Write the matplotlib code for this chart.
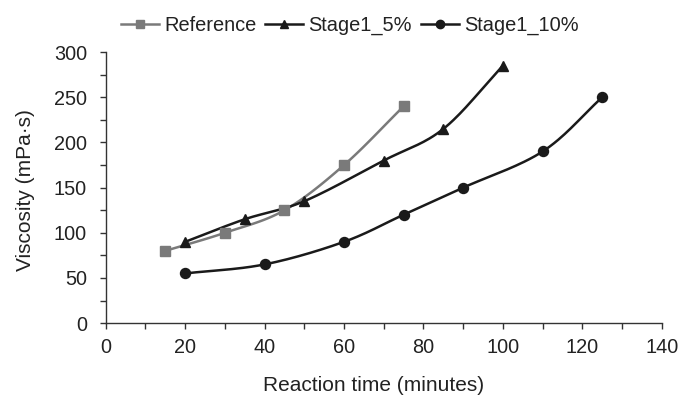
import matplotlib.pyplot as plt
import matplotlib.ticker as mticker
import numpy as np

plt.rcParams['font.family'] = ['Liberation Sans', 'DejaVu Sans']

ref_time = [15, 30, 45, 60, 75]
ref_visc = [80, 100, 125, 175, 240]
s5_time = [20, 35, 50, 70, 85, 100]
s5_visc = [90, 115, 135, 180, 215, 285]
s10_time = [20, 40, 60, 75, 90, 110, 125]
s10_visc = [55, 65, 90, 120, 150, 190, 250]


def smooth(x, y, n=30):
    # Catmull-Rom curve through the points, like a spreadsheet "smoothed line"
    x = np.asarray(x, float)
    y = np.asarray(y, float)
    px = np.concatenate([[2 * x[0] - x[1]], x, [2 * x[-1] - x[-2]]])
    py = np.concatenate([[2 * y[0] - y[1]], y, [2 * y[-1] - y[-2]]])
    xs, ys = [], []
    t = np.linspace(0, 1, n)
    for i in range(1, len(px) - 2):
        for p, out in ((px, xs), (py, ys)):
            p0, p1, p2, p3 = p[i - 1], p[i], p[i + 1], p[i + 2]
            out.extend(0.5 * (2 * p1 + (-p0 + p2) * t
                              + (2 * p0 - 5 * p1 + 4 * p2 - p3) * t ** 2
                              + (-p0 + 3 * p1 - 3 * p2 + p3) * t ** 3))
    return xs, ys


fig = plt.figure(figsize=(6.78, 3.95), dpi=100)
ax = fig.add_axes([0.156, 0.182, 0.82, 0.686])

series = [
    (ref_time, ref_visc, '#7a7a7a', 's', 'Reference'),
    (s5_time, s5_visc, '#1a1a1a', '^', 'Stage1_5%'),
    (s10_time, s10_visc, '#1a1a1a', 'o', 'Stage1_10%'),
]
handles = []
for t, v, c, m, lab in series:
    sx, sy = smooth(t, v)
    ax.plot(sx, sy, color=c, lw=1.8, zorder=2)
    ax.plot(t, v, ls='none', marker=m, color=c, ms=7.2, zorder=3)
    h, = ax.plot([], [], color=c, lw=1.8, marker=m, ms=6, label=lab)
    handles.append(h)

ax.set_xlim(0, 140)
ax.set_ylim(0, 300)
ax.xaxis.set_major_locator(mticker.MultipleLocator(10))
ax.xaxis.set_major_formatter(mticker.FuncFormatter(
    lambda v, p: f'{v:.0f}' if round(v) % 20 == 0 else ''))
ax.yaxis.set_major_locator(mticker.MultipleLocator(25))
ax.yaxis.set_major_formatter(mticker.FuncFormatter(
    lambda v, p: f'{v:.0f}' if round(v) % 50 == 0 else ''))

for side in ('top', 'right'):
    ax.spines[side].set_visible(False)
for side in ('left', 'bottom'):
    ax.spines[side].set_color('#333333')
    ax.spines[side].set_linewidth(1.0)
ax.tick_params(direction='out', length=4.5, width=1, color='#333333',
               labelsize=14.3, labelcolor='#222222')
ax.tick_params(axis='x', pad=6)
ax.tick_params(axis='y', pad=9)

ax.set_xlabel('Reaction time (minutes)', fontsize=15, color='#222222')
ax.xaxis.set_label_coords(0.482, -0.195)
ax.set_ylabel('Viscosity (mPa·s)', fontsize=15, color='#222222')
ax.yaxis.set_label_coords(-0.128, 0.49)

fig.legend(handles=handles, loc='center', bbox_to_anchor=(0.516, 0.935), ncol=3,
           frameon=False, fontsize=14.4, handlelength=1.9, handletextpad=0.25,
           columnspacing=0.45, labelcolor='#222222')

fig.savefig('out.png', dpi=100)
